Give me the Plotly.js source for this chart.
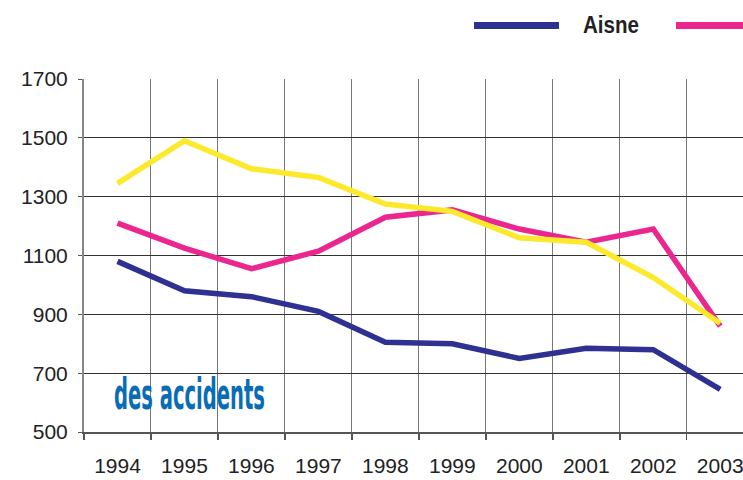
<!DOCTYPE html>
<html>
<head>
<meta charset="utf-8">
<script src="https://cdn.plot.ly/plotly-3.0.1.min.js"></script>
<style>
  body { margin: 0; background: #fff; }
  #chart { width: 743px; height: 480px; }
</style>
</head>
<body>
<div id="chart"></div>
<script>
// years on the x axis
const years = ["1994", "1995", "1996", "1997", "1998", "1999", "2000", "2001", "2002", "2003"];

// series
const aisne = [1080, 980, 960, 910, 805, 800, 750, 785, 780, 645];
const pinkSeries = [1210, 1125, 1055, 1115, 1230, 1255, 1190, 1145, 1190, 860];
const yellowSeries = [1345, 1490, 1395, 1365, 1275, 1250, 1160, 1145, 1025, 870];

const yTicks = [500, 700, 900, 1100, 1300, 1500, 1700];

const blue = "#2e3192";
const pink = "#ec268f";
const yellow = "#fde92b";

const traces = [
  { x: years, y: aisne, name: "Aisne", mode: "lines", line: { color: blue, width: 5.5 } },
  { x: years, y: pinkSeries, mode: "lines", line: { color: pink, width: 5.5 } },
  { x: years, y: yellowSeries, mode: "lines", line: { color: yellow, width: 5.5 } }
];

const layout = {
  width: 743,
  height: 480,
  margin: { l: 84, r: 0, t: 79, b: 48 },
  showlegend: false,
  paper_bgcolor: "#fff",
  plot_bgcolor: "#fff",
  font: { family: "Liberation Sans, Arial, sans-serif", size: 21, color: "#222" },
  xaxis: {
    type: "category",
    range: [-0.5, 9.34],
    tickson: "boundaries",
    ticks: "outside",
    ticklen: 6,
    tickcolor: "#555",
    tickwidth: 1.5,
    showgrid: true,
    gridcolor: "#777",
    gridwidth: 1,
    showline: true,
    linecolor: "#555",
    linewidth: 2,
    ticklabelstandoff: 14,
    fixedrange: true
  },
  yaxis: {
    range: [500, 1700],
    tickvals: yTicks,
    ticks: "outside",
    ticklen: 4,
    tickcolor: "#555",
    showgrid: true,
    gridcolor: "#333",
    gridwidth: 1,
    showline: true,
    linecolor: "#888",
    linewidth: 2,
    zeroline: false,
    ticklabelstandoff: 6,
    fixedrange: true
  },
  shapes: [
    // legend samples
    { type: "line", xref: "paper", yref: "paper", x0: (474 - 84) / 659, x1: (559 - 84) / 659,
      y0: (432 - 25.5) / 353, y1: (432 - 25.5) / 353, line: { color: blue, width: 7 } },
    { type: "line", xref: "paper", yref: "paper", x0: (676 - 84) / 659, x1: 1.05,
      y0: (432 - 25.5) / 353, y1: (432 - 25.5) / 353, line: { color: pink, width: 7 } }
  ],
  annotations: [
    { text: "<b>Aisne</b>", xref: "paper", yref: "paper", x: (581 - 84) / 659, y: (432 - 25) / 353,
      xanchor: "left", yanchor: "middle", align: "left", showarrow: false,
      font: { family: "Liberation Sans, Arial, sans-serif", size: 23, color: "#222" } },
    { text: "<b>des accidents</b>", xref: "paper", yref: "paper", x: (112 - 84) / 659, y: (432 - 394) / 353,
      xanchor: "left", yanchor: "middle", align: "left", showarrow: false,
      font: { family: "DejaVu Sans Condensed, DejaVu Sans, sans-serif", size: 43, color: "#0a6cb5" } }
  ]
};

// squeeze a text label to a given width (narrow typefaces of the original)
function squeeze(index, width) {
  const t = document.querySelector('g.annotation[data-index="' + index + '"] text.annotation-text');
  if (t) {
    t.setAttribute("textLength", width);
    t.setAttribute("lengthAdjust", "spacingAndGlyphs");
  }
}

Plotly.newPlot("chart", traces, layout, { staticPlot: true }).then(function () {
  squeeze(0, 56);
  squeeze(1, 151);
});
</script>
</body>
</html>
